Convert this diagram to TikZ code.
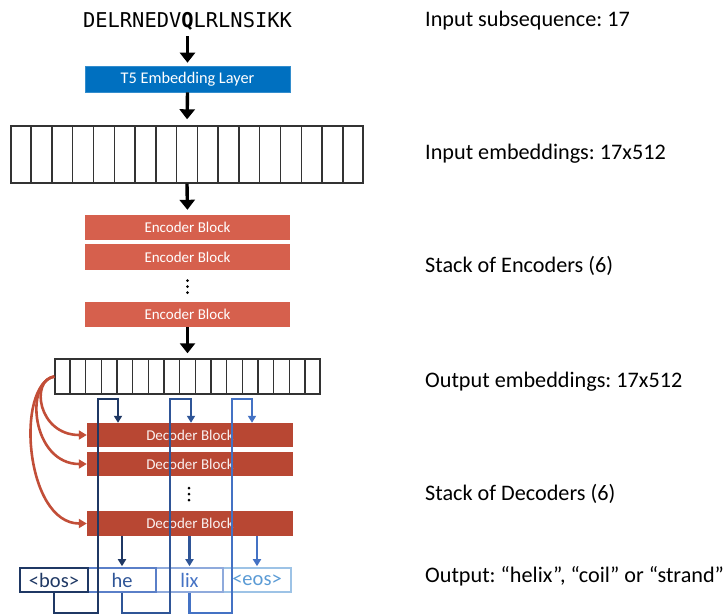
\documentclass[tikz,border=0pt]{standalone}
\usepackage{fontspec}
\setmainfont{Carlito}
\newfontfamily\seqfont{DejaVu Sans Mono}
\usetikzlibrary{arrows.meta,calc}
\frenchspacing

\definecolor{t5blue}{HTML}{0070C0}
\definecolor{encred}{HTML}{D6604D}
\definecolor{decred}{HTML}{B84733}
\definecolor{crossred}{HTML}{C24E38}
\definecolor{tokA}{HTML}{1F3864}
\definecolor{tokB}{HTML}{2F5597}
\definecolor{tokC}{HTML}{4472C4}
\definecolor{tokD}{HTML}{5B9BD5}
\definecolor{edgeB}{HTML}{5A7FC8}
\definecolor{edgeC}{HTML}{8FAADC}
\definecolor{edgeD}{HTML}{9DC3E6}
\definecolor{gridgray}{HTML}{333333}

\begin{document}
\begin{tikzpicture}[x=1pt,y=-1pt,
  blockfont/.style={font=\fontsize{15}{16}\selectfont},
  layerbox/.style={rectangle, inner sep=0pt, minimum width=205pt, minimum height=26pt,
                   text=white, blockfont},
  encbox/.style={layerbox, fill=encred},
  decbox/.style={layerbox, fill=decred, minimum width=206pt, text=white!92!decred},
  gridbox/.style={rectangle, draw=gridgray, line width=1.4pt, inner sep=0pt},
  tokbox/.style={rectangle, line width=1.6pt, inner sep=0pt, minimum width=68pt,
                 minimum height=24pt, font=\fontsize{20.5}{22}\selectfont},
  sidelabel/.style={anchor=base west, inner sep=0pt, font=\fontsize{22.2}{26}\selectfont},
  bigarrow/.style={line width=3.4pt, -{Triangle[width=15pt,length=10pt]}},
  crossarrow/.style={crossred, line width=2.6pt, -{Triangle[width=9pt,length=8pt]}},
  feedA/.style={tokA, line width=2.1pt, -{Triangle[width=8pt,length=7pt]}},
  feedB/.style={tokB, line width=2.1pt, -{Triangle[width=8pt,length=7pt]}},
  feedC/.style={tokC, line width=2.1pt, -{Triangle[width=8pt,length=7pt]}},
]
\useasboundingbox (0,0) rectangle (727,614);

% input sequence and embedding layer
\node[anchor=base, inner sep=0pt, font=\seqfont\fontsize{20.4}{22}\selectfont]
  (seq) at (187.5,27) {DELRNEDV\textbf{Q}LRLNSIKK};
\node[layerbox, fill=t5blue, draw=t5blue!80!white, line width=0.6pt,
      font=\fontsize{16.3}{18}\selectfont] (t5) at (187.5,79) {T5 Embedding Layer};

% input embeddings: 17 cells
\node[gridbox, minimum width=352pt, minimum height=57pt] (emb) at (187,154.5) {};
\foreach \i in {1,...,16}
  \draw[gridgray, line width=1.4pt]
    ($(emb.north west)!\i/17!(emb.north east)$) -- ($(emb.south west)!\i/17!(emb.south east)$);

% encoder stack
\node[encbox, minimum height=25pt] (enc1) at (187.5,227.5) {Encoder Block};
\node[encbox] (enc2) at (187.5,257) {Encoder Block};
\node[encbox, minimum height=25pt] (enc3) at (187.5,314.5) {Encoder Block};
\foreach \yy in {280.5,286.5,292.5}
  \fill (187.5,\yy) circle (1.5pt);

% output embeddings: 17 cells
\node[gridbox, minimum width=265pt, minimum height=35pt] (out) at (187.5,376.5) {};
\foreach \i in {1,...,16}
  \draw[gridgray, line width=1.4pt]
    ($(out.north west)!\i/17!(out.north east)$) -- ($(out.south west)!\i/17!(out.south east)$);

% decoder stack
\node[decbox, minimum height=24pt] (dec1) at (190,435) {Decoder Block};
\node[decbox, minimum height=24pt] (dec2) at (190,464) {Decoder Block};
\node[decbox, minimum height=25pt] (dec3) at (190,523.5) {Decoder Block};
\foreach \yy in {488,494,500}
  \fill (189,\yy) circle (1.5pt);

% main flow arrows
\draw[bigarrow, shorten <=6pt, shorten >=3pt] (seq.south) -- (t5.north);
\draw[bigarrow, shorten >=6pt] (t5.south) -- (emb.north);
\draw[bigarrow, shorten >=5pt] (emb.south) -- (enc1.north);
\draw[bigarrow, shorten >=5pt] (enc3.south) -- (out.north);

% cross attention from the encoder output into every decoder block
\draw[crossarrow] (out.west) .. controls (30,380) and (38,435) .. (dec1.west);
\draw[crossarrow] (out.west) .. controls (24,382) and (32,464) .. (dec2.west);
\draw[crossarrow] (out.west) .. controls (15,385) and (25,523.5) .. (dec3.west);

% generated tokens
\node[tokbox, draw=edgeD, text=tokD] (eos) at (257,580) {<eos>};
\node[tokbox, draw=edgeC, text=tokC, minimum width=67pt] (lix) at (189.5,580) {lix};
\node[tokbox, draw=edgeB, text=tokB] (he) at (122,580) {he};
\node[tokbox, draw=tokA, text=tokA] (bos) at (54,580) {<bos>};

% feedback of each token into the decoder
\coordinate (upA) at (98,399);  \coordinate (inA) at (118,399);
\coordinate (upB) at (170,399); \coordinate (inB) at (191,399);
\coordinate (upC) at (232,399); \coordinate (inC) at (252,399);
\draw[feedA] (bos.south) -- ++(0,20) -| (upA) -- (inA) -- (inA |- dec1.north);
\draw[feedB] (he.south)  -- ++(0,20) -| (upB) -- (inB) -- (inB |- dec1.north);
\draw[feedC] (lix.south) -- ++(0,20) -| (upC) -- (inC) -- (inC |- dec1.north);

% decoder outputs
\draw[feedA, shorten >=1pt] (dec3.south -| he.north) -- (he.north);
\draw[feedB, shorten >=1pt] (dec3.south -| lix.north) -- (lix.north);
\draw[feedC, shorten >=1pt] (dec3.south -| eos.north) -- (eos.north);

% side labels
\node[sidelabel] (l1) at (425,26)  {Input subsequence: 17};
\node[sidelabel] (l2) at (425,159) {Input embeddings: 17x512};
\node[sidelabel] (l3) at (425,272) {Stack of Encoders (6)};
\node[sidelabel] (l4) at (425,387) {Output embeddings: 17x512};
\node[sidelabel] (l5) at (425,500) {Stack of Decoders (6)};
\node[sidelabel] (l6) at (425,582) {Output: “helix”, “coil” or “strand”};
\end{tikzpicture}
\end{document}
